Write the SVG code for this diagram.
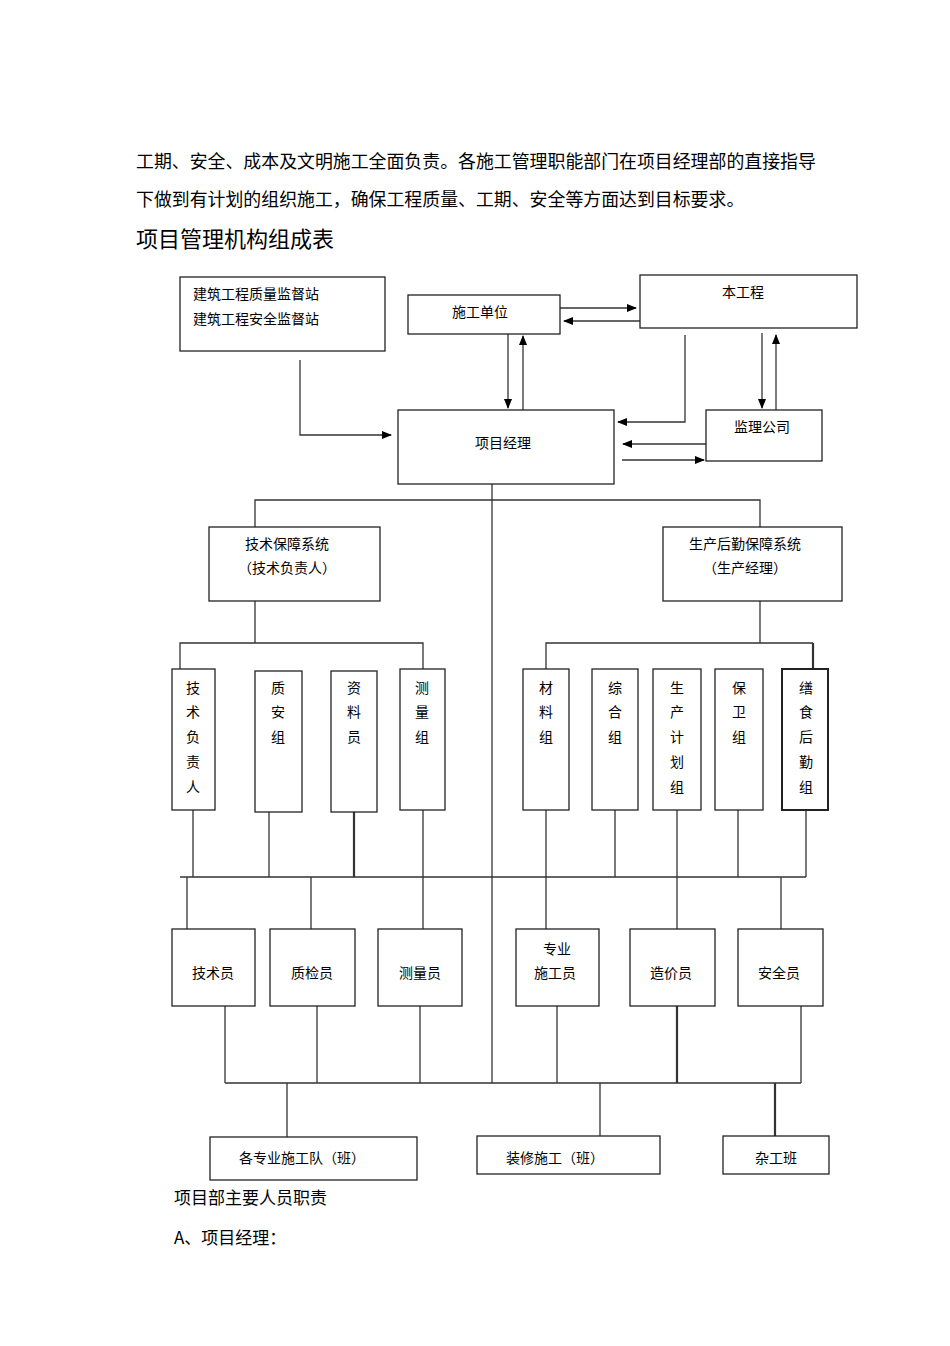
<svg xmlns="http://www.w3.org/2000/svg" width="950" height="1346" viewBox="0 0 950 1346">
<style>
text{font-family:"Noto Sans CJK SC","Liberation Sans",sans-serif;fill:#000}
.b{font-size:17px}
.t{font-size:14px}
.m{text-anchor:middle}
rect{fill:#fff;stroke:#222;stroke-width:1.3}
#connectors path{fill:none;stroke:#333;stroke-width:1.3}
.k{stroke-width:2.2!important}
</style>
<defs><marker id="a" markerWidth="10" markerHeight="8" refX="9" refY="4" orient="auto" markerUnits="userSpaceOnUse"><path d="M0,0L10,4L0,8z" fill="#000"/></marker></defs>
<rect width="950" height="1346" style="stroke:none"/>
<text class="b" x="136" y="168" style="font-size:17.9px">工期、安全、成本及文明施工全面负责。各施工管理职能部门在项目经理部的直接指导</text>
<text class="b" x="136" y="206" style="font-size:17.9px">下做到有计划的组织施工，确保工程质量、工期、安全等方面达到目标要求。</text>
<text x="136" y="247" style="font-size:22px">项目管理机构组成表</text>
<g id="connectors">
<path d="M300 360V435H391" marker-end="url(#a)"/>
<path d="M508 334V408" marker-end="url(#a)"/>
<path d="M523 410V336" marker-end="url(#a)"/>
<path d="M560 308H636" marker-end="url(#a)"/>
<path d="M640 321H564" marker-end="url(#a)"/>
<path d="M685 335V422H618" marker-end="url(#a)"/>
<path d="M762 333V408" marker-end="url(#a)"/>
<path d="M776 410V335" marker-end="url(#a)"/>
<path d="M706 444H623" marker-end="url(#a)"/>
<path d="M622 460H704" marker-end="url(#a)"/>
<path d="M492 484V1083"/>
<path d="M255 527V500H760V527"/>
<path d="M255 601V643M180 669V643H423V669"/>
<path d="M760 601V643M546 669V643H813"/>
<path class="k" d="M813 643V669"/>
<path d="M193 810V877M269 812V877M423 810V877M546 810V877M615 810V877M677 810V877M738 810V877M806 810V877M180 877H806"/>
<path class="k" d="M354 812V877"/>
<path d="M187 877V929M311 877V929M423 877V929M546 877V929M677 877V929M781 877V929"/>
<path d="M225 1006V1083M317 1006V1083M420 1006V1083M557 1006V1083M801 1006V1083M225 1083H801M287 1083V1137M600 1083V1136"/>
<path class="k" d="M677 1006V1083M775 1083V1136"/>
</g>
<g id="n_jd"><rect x="180" y="277" width="205" height="74"/><text class="t" x="193" y="299">建筑工程质量监督站</text><text class="t" x="193" y="324">建筑工程安全监督站</text></g>
<g id="n_sg"><rect x="408" y="295" width="152" height="39"/><text class="t m" x="480" y="317">施工单位</text></g>
<g id="n_bgc"><rect x="640" y="275" width="217" height="53"/><text class="t m" x="743" y="297">本工程</text></g>
<g id="n_xmjl"><rect x="398" y="410" width="216" height="74"/><text class="t m" x="503" y="448">项目经理</text></g>
<g id="n_jl"><rect x="706" y="410" width="116" height="51"/><text class="t m" x="762" y="432">监理公司</text></g>
<g id="n_js"><rect x="209" y="527" width="171" height="74"/><text class="t m" x="287" y="549">技术保障系统</text><text class="t m" x="287" y="573">（技术负责人）</text></g>
<g id="n_sc"><rect x="663" y="527" width="179" height="74"/><text class="t m" x="745" y="549">生产后勤保障系统</text><text class="t m" x="745" y="573">（生产经理）</text></g>
<g id="n_v1"><rect x="172" y="669" width="43" height="141"/><text class="t m" x="193" y="693">技</text><text class="t m" x="193" y="717">术</text><text class="t m" x="193" y="742">负</text><text class="t m" x="193" y="767">责</text><text class="t m" x="193" y="792">人</text></g>
<g id="n_v2"><rect x="255" y="671" width="47" height="141"/><text class="t m" x="278" y="693">质</text><text class="t m" x="278" y="717">安</text><text class="t m" x="278" y="742">组</text></g>
<g id="n_v3"><rect x="331" y="671" width="46" height="141"/><text class="t m" x="354" y="693">资</text><text class="t m" x="354" y="717">料</text><text class="t m" x="354" y="742">员</text></g>
<g id="n_v4"><rect x="400" y="669" width="45" height="141"/><text class="t m" x="422" y="693">测</text><text class="t m" x="422" y="717">量</text><text class="t m" x="422" y="742">组</text></g>
<g id="n_v5"><rect x="523" y="669" width="46" height="141"/><text class="t m" x="546" y="693">材</text><text class="t m" x="546" y="717">料</text><text class="t m" x="546" y="742">组</text></g>
<g id="n_v6"><rect x="592" y="669" width="46" height="141"/><text class="t m" x="615" y="693">综</text><text class="t m" x="615" y="717">合</text><text class="t m" x="615" y="742">组</text></g>
<g id="n_v7"><rect x="653" y="669" width="48" height="141"/><text class="t m" x="677" y="693">生</text><text class="t m" x="677" y="717">产</text><text class="t m" x="677" y="742">计</text><text class="t m" x="677" y="767">划</text><text class="t m" x="677" y="792">组</text></g>
<g id="n_v8"><rect x="715" y="669" width="48" height="141"/><text class="t m" x="739" y="693">保</text><text class="t m" x="739" y="717">卫</text><text class="t m" x="739" y="742">组</text></g>
<g id="n_v9"><rect x="782" y="669" width="46" height="141" style="stroke-width:2"/><text class="t m" x="806" y="693">缮</text><text class="t m" x="806" y="717">食</text><text class="t m" x="806" y="742">后</text><text class="t m" x="806" y="767">勤</text><text class="t m" x="806" y="792">组</text></g>
<g id="n_r1"><rect x="172" y="929" width="83" height="77"/><text class="t m" x="213" y="978">技术员</text></g>
<g id="n_r2"><rect x="270" y="929" width="85" height="77"/><text class="t m" x="312" y="978">质检员</text></g>
<g id="n_r3"><rect x="378" y="929" width="84" height="77"/><text class="t m" x="420" y="978">测量员</text></g>
<g id="n_r4"><rect x="516" y="929" width="83" height="77"/><text class="t m" x="557" y="954">专业</text><text class="t m" x="555" y="978">施工员</text></g>
<g id="n_r5"><rect x="630" y="929" width="85" height="77"/><text class="t m" x="671" y="978">造价员</text></g>
<g id="n_r6"><rect x="738" y="929" width="85" height="77"/><text class="t m" x="779" y="978">安全员</text></g>
<g id="n_b1"><rect x="210" y="1137" width="207" height="43"/><text class="t m" x="302" y="1163">各专业施工队（班）</text></g>
<g id="n_b2"><rect x="477" y="1136" width="183" height="38"/><text class="t m" x="555" y="1163">装修施工（班）</text></g>
<g id="n_b3"><rect x="723" y="1136" width="106" height="38"/><text class="t m" x="776" y="1163">杂工班</text></g>
<text class="b" x="174" y="1204">项目部主要人员职责</text>
<text class="b" x="174" y="1244">A、项目经理：</text>
</svg>
